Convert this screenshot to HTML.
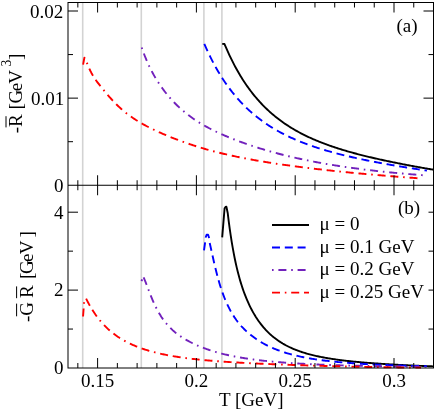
<!DOCTYPE html>
<html><head><meta charset="utf-8"><title>chart</title>
<style>html,body{margin:0;padding:0;background:#fff;}svg{display:block;will-change:transform;}</style>
</head><body>
<svg width="436" height="409" viewBox="0 0 436 409">
<rect width="436" height="409" fill="#fff"/>
<line x1="82.7" y1="2.5" x2="82.7" y2="368.0" stroke="#d3d3d3" stroke-width="1.6"/>
<line x1="141.3" y1="2.5" x2="141.3" y2="368.0" stroke="#d3d3d3" stroke-width="1.6"/>
<line x1="203.9" y1="2.5" x2="203.9" y2="368.0" stroke="#d3d3d3" stroke-width="1.6"/>
<line x1="221.9" y1="2.5" x2="221.9" y2="368.0" stroke="#d3d3d3" stroke-width="1.6"/>
<g fill="none" stroke-width="1.9" stroke-linejoin="round">
<path d="M222.20,43.90 L224.50,44.02 L225.50,46.38 L226.50,48.69 L227.50,50.95 L228.50,53.15 L229.50,55.30 L230.50,57.40 L231.50,59.45 L232.50,61.45 L233.50,63.41 L234.50,65.32 L235.50,67.19 L236.50,69.01 L237.50,70.80 L238.50,72.54 L239.50,74.25 L240.50,75.92 L241.50,77.55 L242.50,79.14 L243.50,80.70 L244.50,82.23 L245.50,83.72 L246.50,85.18 L247.50,86.61 L248.50,88.01 L249.50,89.38 L250.50,90.72 L251.50,92.03 L252.50,93.31 L253.50,94.57 L254.50,95.80 L255.50,97.01 L256.50,98.19 L257.50,99.35 L258.50,100.48 L259.50,101.60 L260.50,102.69 L261.50,103.75 L262.50,104.80 L263.50,105.83 L264.50,106.83 L265.50,107.82 L266.50,108.78 L267.50,109.73 L268.50,110.66 L269.50,111.58 L270.50,112.47 L271.50,113.35 L272.50,114.21 L273.50,115.06 L274.50,115.89 L275.50,116.71 L276.50,117.51 L277.50,118.29 L278.50,119.06 L279.50,119.82 L280.50,120.57 L281.50,121.30 L282.50,122.01 L283.50,122.72 L284.50,123.41 L285.50,124.10 L286.50,124.77 L287.50,125.42 L288.50,126.07 L289.50,126.71 L290.50,127.33 L291.50,127.95 L292.50,128.55 L293.50,129.15 L294.50,129.73 L295.50,130.31 L296.50,130.88 L297.50,131.44 L298.50,131.98 L299.50,132.53 L300.50,133.06 L301.50,133.58 L302.50,134.10 L303.50,134.60 L304.50,135.10 L305.50,135.60 L306.50,136.08 L307.50,136.56 L308.50,137.03 L309.50,137.50 L310.50,137.95 L311.50,138.41 L312.50,138.85 L313.50,139.29 L314.50,139.72 L315.50,140.15 L316.50,140.57 L317.50,140.98 L318.50,141.39 L319.50,141.79 L320.50,142.19 L321.50,142.59 L322.50,142.97 L323.50,143.36 L324.50,143.73 L325.50,144.11 L326.50,144.48 L327.50,144.84 L328.50,145.20 L329.50,145.55 L330.50,145.90 L331.50,146.25 L332.50,146.59 L333.50,146.93 L334.50,147.27 L335.50,147.60 L336.50,147.92 L337.50,148.25 L338.50,148.57 L339.50,148.88 L340.50,149.20 L341.50,149.51 L342.50,149.81 L343.50,150.11 L344.50,150.41 L345.50,150.71 L346.50,151.00 L347.50,151.29 L348.50,151.58 L349.50,151.87 L350.50,152.15 L351.50,152.43 L352.50,152.70 L353.50,152.98 L354.50,153.25 L355.50,153.52 L356.50,153.79 L357.50,154.05 L358.50,154.31 L359.50,154.57 L360.50,154.83 L361.50,155.09 L362.50,155.34 L363.50,155.59 L364.50,155.84 L365.50,156.09 L366.50,156.33 L367.50,156.57 L368.50,156.81 L369.50,157.05 L370.50,157.29 L371.50,157.53 L372.50,157.76 L373.50,157.99 L374.50,158.22 L375.50,158.45 L376.50,158.68 L377.50,158.91 L378.50,159.13 L379.50,159.35 L380.50,159.58 L381.50,159.80 L382.50,160.01 L383.50,160.23 L384.50,160.45 L385.50,160.66 L386.50,160.87 L387.50,161.09 L388.50,161.30 L389.50,161.51 L390.50,161.71 L391.50,161.92 L392.50,162.13 L393.50,162.33 L394.50,162.53 L395.50,162.74 L396.50,162.94 L397.50,163.14 L398.50,163.34 L399.50,163.53 L400.50,163.73 L401.50,163.93 L402.50,164.12 L403.50,164.32 L404.50,164.51 L405.50,164.70 L406.50,164.89 L407.50,165.08 L408.50,165.27 L409.50,165.46 L410.50,165.65 L411.50,165.83 L412.50,166.02 L413.50,166.20 L414.50,166.39 L415.50,166.57 L416.50,166.75 L417.50,166.93 L418.50,167.11 L419.50,167.29 L420.50,167.47 L421.50,167.65 L422.50,167.83 L423.50,168.00 L424.50,168.18 L425.50,168.35 L426.50,168.52 L427.50,168.70 L428.50,168.87 L429.50,169.04 L430.50,169.21 L431.50,169.38 L432.50,169.55 L433.20,169.67" stroke="#000"/>
<path d="M204.30,43.89 L205.30,46.18 L206.30,48.41 L207.30,50.60 L208.30,52.73 L209.30,54.82 L210.30,56.86 L211.30,58.86 L212.30,60.81 L213.30,62.72 L214.30,64.59 L215.30,66.42 L216.30,68.21 L217.30,69.96 L218.30,71.67 L219.30,73.35 L220.30,74.99 L221.30,76.59 L222.30,78.16 L223.30,79.70 L224.30,81.21 L225.30,82.69 L226.30,84.13 L227.30,85.55 L228.30,86.93 L229.30,88.29 L230.30,89.63 L231.30,90.93 L232.30,92.21 L233.30,93.46 L234.30,94.69 L235.30,95.89 L236.30,97.07 L237.30,98.23 L238.30,99.37 L239.30,100.48 L240.30,101.57 L241.30,102.64 L242.30,103.69 L243.30,104.72 L244.30,105.73 L245.30,106.72 L246.30,107.70 L247.30,108.65 L248.30,109.59 L249.30,110.51 L250.30,111.41 L251.30,112.30 L252.30,113.17 L253.30,114.03 L254.30,114.87 L255.30,115.69 L256.30,116.50 L257.30,117.30 L258.30,118.08 L259.30,118.85 L260.30,119.61 L261.30,120.35 L262.30,121.08 L263.30,121.79 L264.30,122.50 L265.30,123.19 L266.30,123.87 L267.30,124.54 L268.30,125.20 L269.30,125.85 L270.30,126.49 L271.30,127.11 L272.30,127.73 L273.30,128.34 L274.30,128.93 L275.30,129.52 L276.30,130.10 L277.30,130.67 L278.30,131.23 L279.30,131.78 L280.30,132.32 L281.30,132.86 L282.30,133.38 L283.30,133.90 L284.30,134.41 L285.30,134.91 L286.30,135.41 L287.30,135.90 L288.30,136.38 L289.30,136.85 L290.30,137.32 L291.30,137.78 L292.30,138.23 L293.30,138.68 L294.30,139.12 L295.30,139.55 L296.30,139.98 L297.30,140.40 L298.30,140.82 L299.30,141.23 L300.30,141.64 L301.30,142.04 L302.30,142.43 L303.30,142.82 L304.30,143.21 L305.30,143.58 L306.30,143.96 L307.30,144.33 L308.30,144.69 L309.30,145.05 L310.30,145.41 L311.30,145.76 L312.30,146.11 L313.30,146.45 L314.30,146.79 L315.30,147.12 L316.30,147.45 L317.30,147.78 L318.30,148.10 L319.30,148.42 L320.30,148.73 L321.30,149.05 L322.30,149.35 L323.30,149.66 L324.30,149.96 L325.30,150.26 L326.30,150.55 L327.30,150.84 L328.30,151.13 L329.30,151.42 L330.30,151.70 L331.30,151.98 L332.30,152.25 L333.30,152.53 L334.30,152.80 L335.30,153.06 L336.30,153.33 L337.30,153.59 L338.30,153.85 L339.30,154.11 L340.30,154.36 L341.30,154.61 L342.30,154.86 L343.30,155.11 L344.30,155.36 L345.30,155.60 L346.30,155.84 L347.30,156.08 L348.30,156.32 L349.30,156.55 L350.30,156.78 L351.30,157.01 L352.30,157.24 L353.30,157.47 L354.30,157.69 L355.30,157.92 L356.30,158.14 L357.30,158.36 L358.30,158.57 L359.30,158.79 L360.30,159.00 L361.30,159.22 L362.30,159.43 L363.30,159.64 L364.30,159.84 L365.30,160.05 L366.30,160.25 L367.30,160.46 L368.30,160.66 L369.30,160.86 L370.30,161.06 L371.30,161.26 L372.30,161.45 L373.30,161.65 L374.30,161.84 L375.30,162.03 L376.30,162.22 L377.30,162.41 L378.30,162.60 L379.30,162.79 L380.30,162.97 L381.30,163.16 L382.30,163.34 L383.30,163.53 L384.30,163.71 L385.30,163.89 L386.30,164.07 L387.30,164.24 L388.30,164.42 L389.30,164.60 L390.30,164.77 L391.30,164.95 L392.30,165.12 L393.30,165.29 L394.30,165.46 L395.30,165.64 L396.30,165.80 L397.30,165.97 L398.30,166.14 L399.30,166.31 L400.30,166.47 L401.30,166.64 L402.30,166.80 L403.30,166.97 L404.30,167.13 L405.30,167.29 L406.30,167.45 L407.30,167.61 L408.30,167.77 L409.30,167.93 L410.30,168.09 L411.30,168.24 L412.30,168.40 L413.30,168.56 L414.30,168.71 L415.30,168.86 L416.30,169.02 L417.30,169.17 L418.30,169.32 L419.30,169.47 L420.30,169.62 L421.30,169.77 L422.30,169.92 L423.30,170.07 L424.30,170.22 L425.30,170.36 L426.30,170.51 L426.90,170.60" stroke="#0000ff" stroke-dasharray="8 4.8"/>
<path d="M141.70,47.50 L142.70,50.36 L143.70,53.10 L144.70,55.72 L145.70,58.22 L146.70,60.61 L147.70,62.90 L148.70,65.10 L149.70,67.21 L150.70,69.24 L151.70,71.18 L152.70,73.06 L153.70,74.87 L154.70,76.62 L155.70,78.31 L156.70,79.94 L157.70,81.52 L158.70,83.06 L159.70,84.55 L160.70,86.00 L161.70,87.42 L162.70,88.80 L163.70,90.15 L164.70,91.46 L165.70,92.74 L166.70,93.99 L167.70,95.21 L168.70,96.40 L169.70,97.56 L170.70,98.70 L171.70,99.81 L172.70,100.89 L173.70,101.95 L174.70,102.99 L175.70,104.00 L176.70,104.99 L177.70,105.96 L178.70,106.90 L179.70,107.83 L180.70,108.73 L181.70,109.62 L182.70,110.49 L183.70,111.33 L184.70,112.17 L185.70,112.98 L186.70,113.78 L187.70,114.56 L188.70,115.32 L189.70,116.08 L190.70,116.81 L191.70,117.53 L192.70,118.24 L193.70,118.94 L194.70,119.62 L195.70,120.29 L196.70,120.94 L197.70,121.59 L198.70,122.22 L199.70,122.84 L200.70,123.45 L201.70,124.05 L202.70,124.64 L203.70,125.22 L204.70,125.79 L205.70,126.35 L206.70,126.91 L207.70,127.45 L208.70,127.98 L209.70,128.51 L210.70,129.03 L211.70,129.54 L212.70,130.04 L213.70,130.54 L214.70,131.03 L215.70,131.51 L216.70,131.99 L217.70,132.46 L218.70,132.92 L219.70,133.38 L220.70,133.83 L221.70,134.27 L222.70,134.71 L223.70,135.15 L224.70,135.58 L225.70,136.00 L226.70,136.42 L227.70,136.84 L228.70,137.25 L229.70,137.66 L230.70,138.06 L231.70,138.46 L232.70,138.85 L233.70,139.24 L234.70,139.63 L235.70,140.01 L236.70,140.40 L237.70,140.77 L238.70,141.15 L239.70,141.52 L240.70,141.89 L241.70,142.25 L242.70,142.61 L243.70,142.97 L244.70,143.32 L245.70,143.68 L246.70,144.03 L247.70,144.37 L248.70,144.71 L249.70,145.05 L250.70,145.39 L251.70,145.72 L252.70,146.06 L253.70,146.38 L254.70,146.71 L255.70,147.03 L256.70,147.35 L257.70,147.67 L258.70,147.98 L259.70,148.29 L260.70,148.60 L261.70,148.91 L262.70,149.21 L263.70,149.51 L264.70,149.81 L265.70,150.11 L266.70,150.40 L267.70,150.69 L268.70,150.98 L269.70,151.26 L270.70,151.55 L271.70,151.83 L272.70,152.10 L273.70,152.38 L274.70,152.65 L275.70,152.92 L276.70,153.19 L277.70,153.46 L278.70,153.72 L279.70,153.98 L280.70,154.24 L281.70,154.50 L282.70,154.75 L283.70,155.01 L284.70,155.26 L285.70,155.50 L286.70,155.75 L287.70,155.99 L288.70,156.23 L289.70,156.47 L290.70,156.71 L291.70,156.95 L292.70,157.18 L293.70,157.41 L294.70,157.64 L295.70,157.87 L296.70,158.09 L297.70,158.32 L298.70,158.54 L299.70,158.76 L300.70,158.97 L301.70,159.19 L302.70,159.40 L303.70,159.61 L304.70,159.82 L305.70,160.03 L306.70,160.24 L307.70,160.44 L308.70,160.64 L309.70,160.85 L310.70,161.04 L311.70,161.24 L312.70,161.44 L313.70,161.63 L314.70,161.82 L315.70,162.01 L316.70,162.20 L317.70,162.39 L318.70,162.58 L319.70,162.76 L320.70,162.94 L321.70,163.12 L322.70,163.30 L323.70,163.48 L324.70,163.66 L325.70,163.83 L326.70,164.00 L327.70,164.17 L328.70,164.34 L329.70,164.51 L330.70,164.68 L331.70,164.85 L332.70,165.01 L333.70,165.17 L334.70,165.33 L335.70,165.49 L336.70,165.65 L337.70,165.81 L338.70,165.96 L339.70,166.12 L340.70,166.27 L341.70,166.42 L342.70,166.57 L343.70,166.72 L344.70,166.87 L345.70,167.02 L346.70,167.16 L347.70,167.31 L348.70,167.45 L349.70,167.59 L350.70,167.73 L351.70,167.87 L352.70,168.01 L353.70,168.14 L354.70,168.28 L355.70,168.41 L356.70,168.55 L357.70,168.68 L358.70,168.81 L359.70,168.94 L360.70,169.07 L361.70,169.19 L362.70,169.32 L363.70,169.44 L364.70,169.57 L365.70,169.69 L366.70,169.81 L367.70,169.93 L368.70,170.05 L369.70,170.17 L370.70,170.29 L371.70,170.41 L372.70,170.52 L373.70,170.64 L374.70,170.75 L375.70,170.86 L376.70,170.97 L377.70,171.09 L378.70,171.20 L379.70,171.30 L380.70,171.41 L381.70,171.52 L382.70,171.62 L383.70,171.73 L384.70,171.83 L385.70,171.94 L386.70,172.04 L387.70,172.14 L388.70,172.24 L389.70,172.34 L390.70,172.44 L391.70,172.54 L392.70,172.64 L393.70,172.73 L394.70,172.83 L395.70,172.92 L396.70,173.02 L397.70,173.11 L398.70,173.20 L399.70,173.29 L400.70,173.38 L401.70,173.47 L402.70,173.56 L403.70,173.65 L404.70,173.74 L405.70,173.82 L406.70,173.91 L407.70,174.00 L408.70,174.08 L409.70,174.16 L410.70,174.25 L411.70,174.33 L412.70,174.41 L413.70,174.49 L414.70,174.57 L415.70,174.65 L416.70,174.73 L417.70,174.81 L418.70,174.89 L419.70,174.96 L420.70,175.04 L421.70,175.12 L422.70,175.19 L423.70,175.26 L424.70,175.34 L425.70,175.41 L425.90,175.43" stroke="#7221bc" stroke-dasharray="1.6 4.8 8 4.8"/>
<path d="M83.10,64.60 L84.40,57.60 L87.30,63.86 L88.30,66.34 L89.30,68.62 L90.30,70.73 L91.30,72.68 L92.30,74.49 L93.30,76.18 L94.30,77.77 L95.30,79.27 L96.30,80.70 L97.30,82.07 L98.30,83.39 L99.30,84.67 L100.30,85.93 L101.30,87.18 L102.30,88.42 L103.30,89.65 L104.30,90.87 L105.30,92.08 L106.30,93.27 L107.30,94.45 L108.30,95.61 L109.30,96.76 L110.30,97.89 L111.30,99.00 L112.30,100.09 L113.30,101.17 L114.30,102.22 L115.30,103.25 L116.30,104.26 L117.30,105.25 L118.30,106.21 L119.30,107.15 L120.30,108.07 L121.30,108.97 L122.30,109.84 L123.30,110.69 L124.30,111.53 L125.30,112.34 L126.30,113.13 L127.30,113.91 L128.30,114.67 L129.30,115.41 L130.30,116.14 L131.30,116.85 L132.30,117.54 L133.30,118.22 L134.30,118.89 L135.30,119.54 L136.30,120.18 L137.30,120.81 L138.30,121.42 L139.30,122.03 L140.30,122.62 L141.30,123.20 L142.30,123.77 L143.30,124.34 L144.30,124.89 L145.30,125.43 L146.30,125.97 L147.30,126.49 L148.30,127.01 L149.30,127.52 L150.30,128.02 L151.30,128.52 L152.30,129.01 L153.30,129.49 L154.30,129.97 L155.30,130.44 L156.30,130.91 L157.30,131.37 L158.30,131.82 L159.30,132.27 L160.30,132.72 L161.30,133.16 L162.30,133.59 L163.30,134.03 L164.30,134.45 L165.30,134.88 L166.30,135.30 L167.30,135.72 L168.30,136.13 L169.30,136.55 L170.30,136.95 L171.30,137.36 L172.30,137.76 L173.30,138.15 L174.30,138.54 L175.30,138.93 L176.30,139.32 L177.30,139.70 L178.30,140.08 L179.30,140.45 L180.30,140.82 L181.30,141.19 L182.30,141.56 L183.30,141.92 L184.30,142.27 L185.30,142.63 L186.30,142.98 L187.30,143.32 L188.30,143.67 L189.30,144.01 L190.30,144.35 L191.30,144.68 L192.30,145.01 L193.30,145.34 L194.30,145.66 L195.30,145.98 L196.30,146.30 L197.30,146.61 L198.30,146.92 L199.30,147.23 L200.30,147.53 L201.30,147.84 L202.30,148.13 L203.30,148.43 L204.30,148.72 L205.30,149.01 L206.30,149.29 L207.30,149.58 L208.30,149.86 L209.30,150.13 L210.30,150.41 L211.30,150.68 L212.30,150.95 L213.30,151.21 L214.30,151.47 L215.30,151.73 L216.30,151.99 L217.30,152.24 L218.30,152.50 L219.30,152.74 L220.30,152.99 L221.30,153.23 L222.30,153.48 L223.30,153.72 L224.30,153.95 L225.30,154.19 L226.30,154.42 L227.30,154.65 L228.30,154.87 L229.30,155.10 L230.30,155.32 L231.30,155.54 L232.30,155.76 L233.30,155.98 L234.30,156.19 L235.30,156.40 L236.30,156.61 L237.30,156.82 L238.30,157.03 L239.30,157.23 L240.30,157.44 L241.30,157.64 L242.30,157.84 L243.30,158.03 L244.30,158.23 L245.30,158.42 L246.30,158.61 L247.30,158.81 L248.30,158.99 L249.30,159.18 L250.30,159.37 L251.30,159.55 L252.30,159.73 L253.30,159.91 L254.30,160.09 L255.30,160.27 L256.30,160.45 L257.30,160.62 L258.30,160.79 L259.30,160.97 L260.30,161.14 L261.30,161.31 L262.30,161.47 L263.30,161.64 L264.30,161.80 L265.30,161.97 L266.30,162.13 L267.30,162.29 L268.30,162.45 L269.30,162.61 L270.30,162.77 L271.30,162.93 L272.30,163.08 L273.30,163.23 L274.30,163.39 L275.30,163.54 L276.30,163.69 L277.30,163.84 L278.30,163.99 L279.30,164.14 L280.30,164.28 L281.30,164.43 L282.30,164.57 L283.30,164.72 L284.30,164.86 L285.30,165.00 L286.30,165.14 L287.30,165.28 L288.30,165.42 L289.30,165.56 L290.30,165.69 L291.30,165.83 L292.30,165.96 L293.30,166.10 L294.30,166.23 L295.30,166.36 L296.30,166.49 L297.30,166.63 L298.30,166.76 L299.30,166.88 L300.30,167.01 L301.30,167.14 L302.30,167.27 L303.30,167.39 L304.30,167.52 L305.30,167.64 L306.30,167.77 L307.30,167.89 L308.30,168.01 L309.30,168.13 L310.30,168.25 L311.30,168.37 L312.30,168.49 L313.30,168.61 L314.30,168.73 L315.30,168.85 L316.30,168.96 L317.30,169.08 L318.30,169.20 L319.30,169.31 L320.30,169.42 L321.30,169.54 L322.30,169.65 L323.30,169.76 L324.30,169.87 L325.30,169.99 L326.30,170.10 L327.30,170.21 L328.30,170.32 L329.30,170.42 L330.30,170.53 L331.30,170.64 L332.30,170.75 L333.30,170.85 L334.30,170.96 L335.30,171.07 L336.30,171.17 L337.30,171.27 L338.30,171.38 L339.30,171.48 L340.30,171.58 L341.30,171.69 L342.30,171.79 L343.30,171.89 L344.30,171.99 L345.30,172.09 L346.30,172.19 L347.30,172.29 L348.30,172.39 L349.30,172.49 L350.30,172.59 L351.30,172.68 L352.30,172.78 L353.30,172.88 L354.30,172.97 L355.30,173.07 L356.30,173.16 L357.30,173.26 L358.30,173.35 L359.30,173.45 L360.30,173.54 L361.30,173.63 L362.30,173.72 L363.30,173.82 L364.30,173.91 L365.30,174.00 L366.30,174.09 L367.30,174.18 L368.30,174.27 L369.30,174.36 L370.30,174.45 L371.30,174.54 L372.30,174.62 L373.30,174.71 L374.30,174.80 L375.30,174.89 L376.30,174.97 L377.30,175.06 L378.30,175.14 L379.30,175.23 L380.30,175.31 L381.30,175.40 L382.30,175.48 L383.30,175.57 L384.30,175.65 L385.30,175.73 L386.30,175.82 L387.30,175.90 L388.30,175.98 L389.30,176.06 L390.30,176.14 L391.30,176.22 L392.30,176.30 L393.30,176.38 L394.30,176.46 L395.30,176.54 L396.30,176.62 L397.30,176.70 L398.30,176.77 L399.30,176.85 L400.30,176.93 L401.30,177.01 L402.30,177.08 L403.30,177.16 L404.30,177.23 L405.30,177.31 L406.30,177.38 L407.30,177.46 L408.30,177.53 L409.30,177.60 L410.30,177.68 L411.30,177.75 L412.30,177.82 L413.30,177.89 L414.30,177.97 L415.30,178.04 L416.30,178.11 L417.30,178.18 L418.30,178.25 L419.30,178.32 L420.30,178.39 L421.00,178.44" stroke="#ff0000" stroke-dasharray="8 4.8 1.6 4.8 8 4.8"/>
<path d="M222.20,237.40 L224.60,208.20 L225.50,207.00 L226.40,206.70 L227.70,212.98 L228.70,221.09 L229.70,228.56 L230.70,235.44 L231.70,241.81 L232.70,247.70 L233.70,253.16 L234.70,258.24 L235.70,262.97 L236.70,267.38 L237.70,271.50 L238.70,275.36 L239.70,278.98 L240.70,282.38 L241.70,285.58 L242.70,288.60 L243.70,291.46 L244.70,294.16 L245.70,296.72 L246.70,299.16 L247.70,301.48 L248.70,303.69 L249.70,305.80 L250.70,307.82 L251.70,309.74 L252.70,311.59 L253.70,313.36 L254.70,315.05 L255.70,316.68 L256.70,318.23 L257.70,319.73 L258.70,321.17 L259.70,322.55 L260.70,323.88 L261.70,325.16 L262.70,326.39 L263.70,327.57 L264.70,328.71 L265.70,329.81 L266.70,330.87 L267.70,331.89 L268.70,332.87 L269.70,333.82 L270.70,334.73 L271.70,335.61 L272.70,336.46 L273.70,337.29 L274.70,338.08 L275.70,338.84 L276.70,339.58 L277.70,340.30 L278.70,340.99 L279.70,341.65 L280.70,342.30 L281.70,342.92 L282.70,343.53 L283.70,344.11 L284.70,344.67 L285.70,345.22 L286.70,345.75 L287.70,346.26 L288.70,346.76 L289.70,347.24 L290.70,347.71 L291.70,348.16 L292.70,348.60 L293.70,349.02 L294.70,349.43 L295.70,349.83 L296.70,350.22 L297.70,350.60 L298.70,350.96 L299.70,351.32 L300.70,351.67 L301.70,352.00 L302.70,352.33 L303.70,352.64 L304.70,352.95 L305.70,353.25 L306.70,353.54 L307.70,353.83 L308.70,354.10 L309.70,354.37 L310.70,354.63 L311.70,354.89 L312.70,355.13 L313.70,355.38 L314.70,355.61 L315.70,355.84 L316.70,356.06 L317.70,356.28 L318.70,356.49 L319.70,356.70 L320.70,356.90 L321.70,357.10 L322.70,357.29 L323.70,357.48 L324.70,357.67 L325.70,357.85 L326.70,358.02 L327.70,358.19 L328.70,358.36 L329.70,358.52 L330.70,358.68 L331.70,358.84 L332.70,358.99 L333.70,359.14 L334.70,359.29 L335.70,359.43 L336.70,359.57 L337.70,359.71 L338.70,359.85 L339.70,359.98 L340.70,360.11 L341.70,360.23 L342.70,360.36 L343.70,360.48 L344.70,360.60 L345.70,360.72 L346.70,360.83 L347.70,360.94 L348.70,361.06 L349.70,361.16 L350.70,361.27 L351.70,361.38 L352.70,361.48 L353.70,361.58 L354.70,361.68 L355.70,361.78 L356.70,361.87 L357.70,361.97 L358.70,362.06 L359.70,362.15 L360.70,362.24 L361.70,362.33 L362.70,362.42 L363.70,362.50 L364.70,362.59 L365.70,362.67 L366.70,362.75 L367.70,362.83 L368.70,362.91 L369.70,362.99 L370.70,363.07 L371.70,363.14 L372.70,363.22 L373.70,363.29 L374.70,363.36 L375.70,363.43 L376.70,363.50 L377.70,363.57 L378.70,363.64 L379.70,363.71 L380.70,363.78 L381.70,363.84 L382.70,363.91 L383.70,363.97 L384.70,364.04 L385.70,364.10 L386.70,364.16 L387.70,364.22 L388.70,364.28 L389.70,364.34 L390.70,364.40 L391.70,364.46 L392.70,364.52 L393.70,364.57 L394.70,364.63 L395.70,364.68 L396.70,364.74 L397.70,364.79 L398.70,364.85 L399.70,364.90 L400.70,364.95 L401.70,365.00 L402.70,365.05 L403.70,365.11 L404.70,365.16 L405.70,365.20 L406.70,365.25 L407.70,365.30 L408.70,365.35 L409.70,365.40 L410.70,365.44 L411.70,365.49 L412.70,365.53 L413.70,365.58 L414.70,365.62 L415.70,365.67 L416.70,365.71 L417.70,365.75 L418.70,365.80 L419.70,365.84 L420.70,365.88 L421.70,365.92 L422.70,365.96 L423.70,366.00 L424.70,366.04 L425.70,366.08 L426.70,366.12 L427.70,366.15 L428.70,366.19 L429.70,366.23 L430.70,366.27 L431.70,366.30 L432.70,366.34 L433.20,366.35" stroke="#000"/>
<path d="M204.00,250.30 L205.15,242.20 L205.65,237.50 L206.60,234.80 L208.10,234.80 L208.90,237.20 L209.50,241.98 L210.50,246.47 L211.50,251.02 L212.50,255.56 L213.50,260.03 L214.50,264.38 L215.50,268.57 L216.50,272.57 L217.50,276.38 L218.50,280.00 L219.50,283.43 L220.50,286.68 L221.50,289.76 L222.50,292.66 L223.50,295.39 L224.50,297.97 L225.50,300.41 L226.50,302.72 L227.50,304.90 L228.50,306.96 L229.50,308.92 L230.50,310.79 L231.50,312.55 L232.50,314.24 L233.50,315.84 L234.50,317.37 L235.50,318.82 L236.50,320.22 L237.50,321.55 L238.50,322.82 L239.50,324.04 L240.50,325.21 L241.50,326.34 L242.50,327.42 L243.50,328.46 L244.50,329.46 L245.50,330.42 L246.50,331.36 L247.50,332.26 L248.50,333.13 L249.50,333.97 L250.50,334.79 L251.50,335.59 L252.50,336.36 L253.50,337.11 L254.50,337.84 L255.50,338.55 L256.50,339.23 L257.50,339.90 L258.50,340.55 L259.50,341.18 L260.50,341.80 L261.50,342.39 L262.50,342.97 L263.50,343.53 L264.50,344.08 L265.50,344.61 L266.50,345.13 L267.50,345.64 L268.50,346.13 L269.50,346.60 L270.50,347.07 L271.50,347.52 L272.50,347.96 L273.50,348.39 L274.50,348.81 L275.50,349.21 L276.50,349.61 L277.50,349.99 L278.50,350.37 L279.50,350.73 L280.50,351.09 L281.50,351.44 L282.50,351.78 L283.50,352.11 L284.50,352.43 L285.50,352.74 L286.50,353.05 L287.50,353.34 L288.50,353.63 L289.50,353.92 L290.50,354.19 L291.50,354.46 L292.50,354.73 L293.50,354.98 L294.50,355.23 L295.50,355.48 L296.50,355.71 L297.50,355.95 L298.50,356.17 L299.50,356.40 L300.50,356.61 L301.50,356.82 L302.50,357.03 L303.50,357.23 L304.50,357.43 L305.50,357.62 L306.50,357.81 L307.50,357.99 L308.50,358.17 L309.50,358.35 L310.50,358.52 L311.50,358.69 L312.50,358.85 L313.50,359.01 L314.50,359.17 L315.50,359.32 L316.50,359.47 L317.50,359.62 L318.50,359.76 L319.50,359.90 L320.50,360.04 L321.50,360.18 L322.50,360.31 L323.50,360.44 L324.50,360.56 L325.50,360.69 L326.50,360.81 L327.50,360.92 L328.50,361.04 L329.50,361.15 L330.50,361.26 L331.50,361.37 L332.50,361.48 L333.50,361.58 L334.50,361.69 L335.50,361.79 L336.50,361.88 L337.50,361.98 L338.50,362.08 L339.50,362.17 L340.50,362.26 L341.50,362.35 L342.50,362.43 L343.50,362.52 L344.50,362.60 L345.50,362.69 L346.50,362.77 L347.50,362.85 L348.50,362.92 L349.50,363.00 L350.50,363.07 L351.50,363.15 L352.50,363.22 L353.50,363.29 L354.50,363.36 L355.50,363.43 L356.50,363.49 L357.50,363.56 L358.50,363.62 L359.50,363.69 L360.50,363.75 L361.50,363.81 L362.50,363.87 L363.50,363.93 L364.50,363.99 L365.50,364.04 L366.50,364.10 L367.50,364.15 L368.50,364.21 L369.50,364.26 L370.50,364.31 L371.50,364.36 L372.50,364.41 L373.50,364.46 L374.50,364.51 L375.50,364.56 L376.50,364.61 L377.50,364.65 L378.50,364.70 L379.50,364.74 L380.50,364.79 L381.50,364.83 L382.50,364.87 L383.50,364.91 L384.50,364.95 L385.50,364.99 L386.50,365.03 L387.50,365.07 L388.50,365.11 L389.50,365.15 L390.50,365.19 L391.50,365.23 L392.50,365.26 L393.50,365.30 L394.50,365.33 L395.50,365.37 L396.50,365.40 L397.50,365.43 L398.50,365.47 L399.50,365.50 L400.50,365.53 L401.50,365.56 L402.50,365.60 L403.50,365.63 L404.50,365.66 L405.50,365.69 L406.50,365.72 L407.50,365.75 L408.50,365.77 L409.50,365.80 L410.50,365.83 L411.50,365.86 L412.50,365.88 L413.50,365.91 L414.50,365.94 L415.50,365.96 L416.50,365.99 L417.50,366.01 L418.50,366.04 L419.50,366.06 L420.50,366.09 L421.50,366.11 L422.50,366.14 L423.50,366.16 L424.50,366.18 L425.50,366.20 L426.50,366.23 L426.90,366.24" stroke="#0000ff" stroke-dasharray="8 4.8"/>
<path d="M143.60,277.46 L144.60,279.74 L145.60,282.19 L146.60,284.75 L147.60,287.38 L148.60,290.02 L149.60,292.64 L150.60,295.19 L151.60,297.65 L152.60,300.02 L153.60,302.30 L154.60,304.49 L155.60,306.57 L156.60,308.57 L157.60,310.47 L158.60,312.28 L159.60,313.99 L160.60,315.62 L161.60,317.17 L162.60,318.64 L163.60,320.04 L164.60,321.38 L165.60,322.65 L166.60,323.86 L167.60,325.02 L168.60,326.13 L169.60,327.19 L170.60,328.20 L171.60,329.17 L172.60,330.11 L173.60,331.00 L174.60,331.86 L175.60,332.69 L176.60,333.48 L177.60,334.25 L178.60,334.99 L179.60,335.70 L180.60,336.39 L181.60,337.06 L182.60,337.71 L183.60,338.33 L184.60,338.94 L185.60,339.53 L186.60,340.10 L187.60,340.66 L188.60,341.20 L189.60,341.73 L190.60,342.25 L191.60,342.75 L192.60,343.25 L193.60,343.73 L194.60,344.20 L195.60,344.66 L196.60,345.11 L197.60,345.55 L198.60,345.97 L199.60,346.39 L200.60,346.80 L201.60,347.20 L202.60,347.59 L203.60,347.98 L204.60,348.35 L205.60,348.71 L206.60,349.07 L207.60,349.42 L208.60,349.76 L209.60,350.10 L210.60,350.42 L211.60,350.74 L212.60,351.05 L213.60,351.36 L214.60,351.66 L215.60,351.95 L216.60,352.24 L217.60,352.52 L218.60,352.79 L219.60,353.06 L220.60,353.32 L221.60,353.58 L222.60,353.83 L223.60,354.07 L224.60,354.31 L225.60,354.55 L226.60,354.78 L227.60,355.00 L228.60,355.23 L229.60,355.44 L230.60,355.65 L231.60,355.86 L232.60,356.07 L233.60,356.26 L234.60,356.46 L235.60,356.65 L236.60,356.84 L237.60,357.02 L238.60,357.20 L239.60,357.38 L240.60,357.55 L241.60,357.72 L242.60,357.88 L243.60,358.05 L244.60,358.21 L245.60,358.36 L246.60,358.52 L247.60,358.67 L248.60,358.81 L249.60,358.96 L250.60,359.10 L251.60,359.24 L252.60,359.37 L253.60,359.51 L254.60,359.64 L255.60,359.77 L256.60,359.89 L257.60,360.02 L258.60,360.14 L259.60,360.26 L260.60,360.37 L261.60,360.49 L262.60,360.60 L263.60,360.71 L264.60,360.82 L265.60,360.92 L266.60,361.03 L267.60,361.13 L268.60,361.23 L269.60,361.33 L270.60,361.43 L271.60,361.52 L272.60,361.61 L273.60,361.71 L274.60,361.80 L275.60,361.88 L276.60,361.97 L277.60,362.06 L278.60,362.14 L279.60,362.22 L280.60,362.30 L281.60,362.38 L282.60,362.46 L283.60,362.54 L284.60,362.61 L285.60,362.69 L286.60,362.76 L287.60,362.83 L288.60,362.90 L289.60,362.97 L290.60,363.04 L291.60,363.10 L292.60,363.17 L293.60,363.23 L294.60,363.30 L295.60,363.36 L296.60,363.42 L297.60,363.48 L298.60,363.54 L299.60,363.60 L300.60,363.66 L301.60,363.71 L302.60,363.77 L303.60,363.82 L304.60,363.88 L305.60,363.93 L306.60,363.98 L307.60,364.03 L308.60,364.08 L309.60,364.13 L310.60,364.18 L311.60,364.23 L312.60,364.27 L313.60,364.32 L314.60,364.37 L315.60,364.41 L316.60,364.46 L317.60,364.50 L318.60,364.54 L319.60,364.58 L320.60,364.63 L321.60,364.67 L322.60,364.71 L323.60,364.75 L324.60,364.79 L325.60,364.82 L326.60,364.86 L327.60,364.90 L328.60,364.94 L329.60,364.97 L330.60,365.01 L331.60,365.04 L332.60,365.08 L333.60,365.11 L334.60,365.15 L335.60,365.18 L336.60,365.21 L337.60,365.24 L338.60,365.27 L339.60,365.31 L340.60,365.34 L341.60,365.37 L342.60,365.40 L343.60,365.43 L344.60,365.46 L345.60,365.48 L346.60,365.51 L347.60,365.54 L348.60,365.57 L349.60,365.59 L350.60,365.62 L351.60,365.65 L352.60,365.67 L353.60,365.70 L354.60,365.72 L355.60,365.75 L356.60,365.77 L357.60,365.80 L358.60,365.82 L359.60,365.84 L360.60,365.87 L361.60,365.89 L362.60,365.91 L363.60,365.94 L364.60,365.96 L365.60,365.98 L366.60,366.00 L367.60,366.02 L368.60,366.04 L369.60,366.06 L370.60,366.08 L371.60,366.10 L372.60,366.12 L373.60,366.14 L374.60,366.16 L375.60,366.18 L376.60,366.20 L377.60,366.22 L378.60,366.24 L379.60,366.25 L380.60,366.27 L381.60,366.29 L382.60,366.31 L383.60,366.32 L384.60,366.34 L385.60,366.36 L386.60,366.38 L387.60,366.39 L388.60,366.41 L389.60,366.42 L390.60,366.44 L391.60,366.46 L392.60,366.47 L393.60,366.49 L394.60,366.50 L395.60,366.52 L396.60,366.53 L397.60,366.54 L398.60,366.56 L399.60,366.57 L400.60,366.59 L401.60,366.60 L402.60,366.61 L403.60,366.63 L404.60,366.64 L405.60,366.65 L406.60,366.67 L407.60,366.68 L408.60,366.69 L409.60,366.71 L410.60,366.72 L411.60,366.73 L412.60,366.74 L413.60,366.76 L414.60,366.77 L415.60,366.78 L416.60,366.79 L417.60,366.80 L418.60,366.81 L419.60,366.83 L420.60,366.84 L421.60,366.85 L422.60,366.86 L423.60,366.87 L424.60,366.88 L425.60,366.89 L425.90,366.89" stroke="#7221bc" stroke-dasharray="8 4.8 1.6 4.8"/>
<path d="M83.05,316.50 L84.05,303.00 L85.30,298.40 L86.10,298.56 L87.10,300.56 L88.10,302.48 L89.10,304.34 L90.10,306.12 L91.10,307.83 L92.10,309.48 L93.10,311.06 L94.10,312.59 L95.10,314.06 L96.10,315.48 L97.10,316.85 L98.10,318.17 L99.10,319.44 L100.10,320.67 L101.10,321.85 L102.10,322.99 L103.10,324.10 L104.10,325.17 L105.10,326.20 L106.10,327.19 L107.10,328.16 L108.10,329.09 L109.10,329.99 L110.10,330.86 L111.10,331.71 L112.10,332.52 L113.10,333.31 L114.10,334.08 L115.10,334.83 L116.10,335.55 L117.10,336.25 L118.10,336.92 L119.10,337.58 L120.10,338.22 L121.10,338.84 L122.10,339.44 L123.10,340.03 L124.10,340.60 L125.10,341.15 L126.10,341.69 L127.10,342.21 L128.10,342.72 L129.10,343.21 L130.10,343.69 L131.10,344.16 L132.10,344.62 L133.10,345.06 L134.10,345.49 L135.10,345.91 L136.10,346.32 L137.10,346.72 L138.10,347.11 L139.10,347.49 L140.10,347.86 L141.10,348.22 L142.10,348.57 L143.10,348.92 L144.10,349.25 L145.10,349.57 L146.10,349.89 L147.10,350.20 L148.10,350.50 L149.10,350.80 L150.10,351.09 L151.10,351.37 L152.10,351.64 L153.10,351.91 L154.10,352.17 L155.10,352.43 L156.10,352.68 L157.10,352.92 L158.10,353.16 L159.10,353.39 L160.10,353.62 L161.10,353.84 L162.10,354.06 L163.10,354.27 L164.10,354.48 L165.10,354.68 L166.10,354.88 L167.10,355.08 L168.10,355.27 L169.10,355.45 L170.10,355.64 L171.10,355.81 L172.10,355.99 L173.10,356.16 L174.10,356.33 L175.10,356.49 L176.10,356.65 L177.10,356.81 L178.10,356.96 L179.10,357.11 L180.10,357.26 L181.10,357.41 L182.10,357.55 L183.10,357.69 L184.10,357.83 L185.10,357.96 L186.10,358.09 L187.10,358.22 L188.10,358.35 L189.10,358.47 L190.10,358.59 L191.10,358.71 L192.10,358.83 L193.10,358.94 L194.10,359.06 L195.10,359.17 L196.10,359.28 L197.10,359.38 L198.10,359.49 L199.10,359.59 L200.10,359.69 L201.10,359.79 L202.10,359.89 L203.10,359.99 L204.10,360.08 L205.10,360.18 L206.10,360.27 L207.10,360.36 L208.10,360.45 L209.10,360.53 L210.10,360.62 L211.10,360.71 L212.10,360.79 L213.10,360.87 L214.10,360.95 L215.10,361.03 L216.10,361.11 L217.10,361.19 L218.10,361.26 L219.10,361.34 L220.10,361.41 L221.10,361.48 L222.10,361.55 L223.10,361.62 L224.10,361.69 L225.10,361.76 L226.10,361.83 L227.10,361.90 L228.10,361.96 L229.10,362.03 L230.10,362.09 L231.10,362.15 L232.10,362.21 L233.10,362.28 L234.10,362.34 L235.10,362.40 L236.10,362.46 L237.10,362.51 L238.10,362.57 L239.10,362.63 L240.10,362.68 L241.10,362.74 L242.10,362.79 L243.10,362.85 L244.10,362.90 L245.10,362.96 L246.10,363.01 L247.10,363.06 L248.10,363.11 L249.10,363.16 L250.10,363.21 L251.10,363.26 L252.10,363.31 L253.10,363.36 L254.10,363.41 L255.10,363.45 L256.10,363.50 L257.10,363.55 L258.10,363.59 L259.10,363.64 L260.10,363.68 L261.10,363.73 L262.10,363.77 L263.10,363.82 L264.10,363.86 L265.10,363.90 L266.10,363.95 L267.10,363.99 L268.10,364.03 L269.10,364.07 L270.10,364.11 L271.10,364.15 L272.10,364.19 L273.10,364.23 L274.10,364.27 L275.10,364.31 L276.10,364.35 L277.10,364.39 L278.10,364.43 L279.10,364.47 L280.10,364.51 L281.10,364.54 L282.10,364.58 L283.10,364.62 L284.10,364.65 L285.10,364.69 L286.10,364.73 L287.10,364.76 L288.10,364.80 L289.10,364.83 L290.10,364.87 L291.10,364.90 L292.10,364.94 L293.10,364.97 L294.10,365.01 L295.10,365.04 L296.10,365.07 L297.10,365.11 L298.10,365.14 L299.10,365.17 L300.10,365.21 L301.10,365.24 L302.10,365.27 L303.10,365.30 L304.10,365.33 L305.10,365.37 L306.10,365.40 L307.10,365.43 L308.10,365.46 L309.10,365.49 L310.10,365.52 L311.10,365.55 L312.10,365.58 L313.10,365.61 L314.10,365.64 L315.10,365.67 L316.10,365.70 L317.10,365.73 L318.10,365.76 L319.10,365.78 L320.10,365.81 L321.10,365.84 L322.10,365.87 L323.10,365.90 L324.10,365.93 L325.10,365.95 L326.10,365.98 L327.10,366.01 L328.10,366.03 L329.10,366.06 L330.10,366.09 L331.10,366.11 L332.10,366.14 L333.10,366.17 L334.10,366.19 L335.10,366.22 L336.10,366.24 L337.10,366.27 L338.10,366.29 L339.10,366.32 L340.10,366.34 L341.10,366.37 L342.10,366.39 L343.10,366.41 L344.10,366.44 L345.10,366.46 L346.10,366.49 L347.10,366.51 L348.10,366.53 L349.10,366.55 L350.10,366.58 L351.10,366.60 L352.10,366.62 L353.10,366.64 L354.10,366.67 L355.10,366.69 L356.10,366.71 L357.10,366.73 L358.10,366.75 L359.10,366.77 L360.10,366.79 L361.10,366.81 L362.10,366.83 L363.10,366.85 L364.10,366.87 L365.10,366.89 L366.10,366.91 L367.10,366.93 L368.10,366.95 L369.10,366.97 L370.10,366.99 L371.10,367.01 L372.10,367.03 L373.10,367.04 L374.10,367.06 L375.10,367.08 L376.10,367.10 L377.10,367.11 L378.10,367.13 L379.10,367.15 L380.10,367.16 L381.10,367.18 L382.10,367.20 L383.10,367.21 L384.10,367.23 L385.10,367.24 L386.10,367.26 L387.10,367.28 L388.10,367.29 L389.10,367.31 L390.10,367.32 L391.10,367.33 L392.10,367.35 L393.10,367.36 L394.10,367.38 L395.10,367.39 L396.10,367.40 L397.10,367.42 L398.10,367.43 L399.10,367.44 L400.10,367.46 L401.10,367.47 L402.10,367.48 L403.10,367.49 L404.10,367.50 L405.10,367.52 L406.10,367.53 L407.10,367.54 L408.10,367.55 L409.10,367.56 L410.10,367.57 L411.10,367.58 L412.10,367.59 L413.10,367.60 L414.10,367.61 L415.10,367.62 L416.10,367.63 L417.10,367.64 L418.10,367.65 L419.10,367.66 L420.10,367.67 L421.00,367.68" stroke="#ff0000" stroke-dasharray="8 4.8 1.6 4.8 8 4.8"/>
<path d="M141.5,281.2 L142.2,279.3" stroke="#7221bc"/>
</g>
<g stroke="#000" stroke-width="1" fill="none">
<rect x="68.0" y="2.5" width="365.5" height="365.5"/>
<line x1="68.0" y1="185.25" x2="433.5" y2="185.25"/>
<line x1="77.84" y1="2.5" x2="77.84" y2="7.5"/>
<line x1="77.84" y1="180.25" x2="77.84" y2="190.25"/>
<line x1="77.84" y1="363.0" x2="77.84" y2="368.0"/>
<line x1="97.60" y1="2.5" x2="97.60" y2="12.5"/>
<line x1="97.60" y1="175.25" x2="97.60" y2="195.25"/>
<line x1="97.60" y1="358.0" x2="97.60" y2="368.0"/>
<line x1="117.36" y1="2.5" x2="117.36" y2="7.5"/>
<line x1="117.36" y1="180.25" x2="117.36" y2="190.25"/>
<line x1="117.36" y1="363.0" x2="117.36" y2="368.0"/>
<line x1="137.12" y1="2.5" x2="137.12" y2="7.5"/>
<line x1="137.12" y1="180.25" x2="137.12" y2="190.25"/>
<line x1="137.12" y1="363.0" x2="137.12" y2="368.0"/>
<line x1="156.88" y1="2.5" x2="156.88" y2="7.5"/>
<line x1="156.88" y1="180.25" x2="156.88" y2="190.25"/>
<line x1="156.88" y1="363.0" x2="156.88" y2="368.0"/>
<line x1="176.64" y1="2.5" x2="176.64" y2="7.5"/>
<line x1="176.64" y1="180.25" x2="176.64" y2="190.25"/>
<line x1="176.64" y1="363.0" x2="176.64" y2="368.0"/>
<line x1="196.40" y1="2.5" x2="196.40" y2="12.5"/>
<line x1="196.40" y1="175.25" x2="196.40" y2="195.25"/>
<line x1="196.40" y1="358.0" x2="196.40" y2="368.0"/>
<line x1="216.16" y1="2.5" x2="216.16" y2="7.5"/>
<line x1="216.16" y1="180.25" x2="216.16" y2="190.25"/>
<line x1="216.16" y1="363.0" x2="216.16" y2="368.0"/>
<line x1="235.92" y1="2.5" x2="235.92" y2="7.5"/>
<line x1="235.92" y1="180.25" x2="235.92" y2="190.25"/>
<line x1="235.92" y1="363.0" x2="235.92" y2="368.0"/>
<line x1="255.68" y1="2.5" x2="255.68" y2="7.5"/>
<line x1="255.68" y1="180.25" x2="255.68" y2="190.25"/>
<line x1="255.68" y1="363.0" x2="255.68" y2="368.0"/>
<line x1="275.44" y1="2.5" x2="275.44" y2="7.5"/>
<line x1="275.44" y1="180.25" x2="275.44" y2="190.25"/>
<line x1="275.44" y1="363.0" x2="275.44" y2="368.0"/>
<line x1="295.20" y1="2.5" x2="295.20" y2="12.5"/>
<line x1="295.20" y1="175.25" x2="295.20" y2="195.25"/>
<line x1="295.20" y1="358.0" x2="295.20" y2="368.0"/>
<line x1="314.96" y1="2.5" x2="314.96" y2="7.5"/>
<line x1="314.96" y1="180.25" x2="314.96" y2="190.25"/>
<line x1="314.96" y1="363.0" x2="314.96" y2="368.0"/>
<line x1="334.72" y1="2.5" x2="334.72" y2="7.5"/>
<line x1="334.72" y1="180.25" x2="334.72" y2="190.25"/>
<line x1="334.72" y1="363.0" x2="334.72" y2="368.0"/>
<line x1="354.48" y1="2.5" x2="354.48" y2="7.5"/>
<line x1="354.48" y1="180.25" x2="354.48" y2="190.25"/>
<line x1="354.48" y1="363.0" x2="354.48" y2="368.0"/>
<line x1="374.24" y1="2.5" x2="374.24" y2="7.5"/>
<line x1="374.24" y1="180.25" x2="374.24" y2="190.25"/>
<line x1="374.24" y1="363.0" x2="374.24" y2="368.0"/>
<line x1="394.00" y1="2.5" x2="394.00" y2="12.5"/>
<line x1="394.00" y1="175.25" x2="394.00" y2="195.25"/>
<line x1="394.00" y1="358.0" x2="394.00" y2="368.0"/>
<line x1="413.76" y1="2.5" x2="413.76" y2="7.5"/>
<line x1="413.76" y1="180.25" x2="413.76" y2="190.25"/>
<line x1="413.76" y1="363.0" x2="413.76" y2="368.0"/>
<line x1="68.0" y1="141.69" x2="73.0" y2="141.69"/>
<line x1="428.5" y1="141.69" x2="433.5" y2="141.69"/>
<line x1="68.0" y1="98.13" x2="78.0" y2="98.13"/>
<line x1="423.5" y1="98.13" x2="433.5" y2="98.13"/>
<line x1="68.0" y1="54.57" x2="73.0" y2="54.57"/>
<line x1="428.5" y1="54.57" x2="433.5" y2="54.57"/>
<line x1="68.0" y1="11.01" x2="78.0" y2="11.01"/>
<line x1="423.5" y1="11.01" x2="433.5" y2="11.01"/>
<line x1="68.0" y1="329.05" x2="73.0" y2="329.05"/>
<line x1="428.5" y1="329.05" x2="433.5" y2="329.05"/>
<line x1="68.0" y1="290.10" x2="78.0" y2="290.10"/>
<line x1="428.5" y1="290.10" x2="433.5" y2="290.10"/>
<line x1="68.0" y1="251.15" x2="73.0" y2="251.15"/>
<line x1="428.5" y1="251.15" x2="433.5" y2="251.15"/>
<line x1="68.0" y1="212.20" x2="78.0" y2="212.20"/>
<line x1="428.5" y1="212.20" x2="433.5" y2="212.20"/>
</g>
<g fill="none" stroke-width="1.9">
<line x1="272.0" y1="225.0" x2="309.0" y2="225.0" stroke="#000"/>
<line x1="272.0" y1="247.5" x2="309.0" y2="247.5" stroke="#0000ff" stroke-dasharray="8 4.8"/>
<line x1="272.0" y1="270.0" x2="309.0" y2="270.0" stroke="#7221bc" stroke-dasharray="1.6 4.8 8 4.8"/>
<line x1="272.0" y1="292.6" x2="309.0" y2="292.6" stroke="#ff0000" stroke-dasharray="8 4.8 1.6 4.8 8 4.8"/>
</g>
<g font-family="'Liberation Serif', serif" font-size="19.0" fill="#000">
<text x="63.2" y="17.7" text-anchor="end">0.02</text>
<text x="64.2" y="104.7" text-anchor="end">0.01</text>
<text x="63.6" y="191.6" text-anchor="end">0</text>
<text x="63.6" y="219.0" text-anchor="end">4</text>
<text x="63.6" y="296.3" text-anchor="end">2</text>
<text x="63.6" y="374.4" text-anchor="end">0</text>
<text x="97.6" y="386.5" text-anchor="middle">0.15</text>
<text x="196.4" y="386.5" text-anchor="middle">0.2</text>
<text x="295.2" y="386.5" text-anchor="middle">0.25</text>
<text x="394.0" y="386.5" text-anchor="middle">0.3</text>
<text x="251.3" y="405.8" text-anchor="middle">T [GeV]</text>
<text x="396.5" y="31.8" text-anchor="start">(a)</text>
<text x="398.0" y="214.3" text-anchor="start">(b)</text>
<text x="319.6" y="230.4" text-anchor="start">μ = 0</text>
<text x="319.6" y="252.9" text-anchor="start">μ = 0.1 GeV</text>
<text x="319.6" y="275.3" text-anchor="start">μ = 0.2 GeV</text>
<text x="319.6" y="297.6" text-anchor="start">μ = 0.25 GeV</text>
<text transform="translate(22.2,133.2) rotate(-90)" x="0 6.2 18.6 23.8 29.6 41.9 49.4">-R [GeV</text>
<text transform="translate(11.0,66.6) rotate(-90)" font-size="13.6">3</text>
<text transform="translate(22.2,60.1) rotate(-90)">]</text>
<text transform="translate(32.8,322.0) rotate(-90)" x="0 6.2 19.6 24.1 36.5 43.0 48.1 60.0 67.7 84.5">-G R [GeV]</text>
</g>
<g stroke="#000" stroke-width="1">
<line x1="6.0" y1="127.4" x2="6.0" y2="116.2"/>
<line x1="16.6" y1="316.3" x2="16.6" y2="303.6"/>
<line x1="16.6" y1="298.2" x2="16.6" y2="286.4"/>
</g>
</svg>
</body></html>
